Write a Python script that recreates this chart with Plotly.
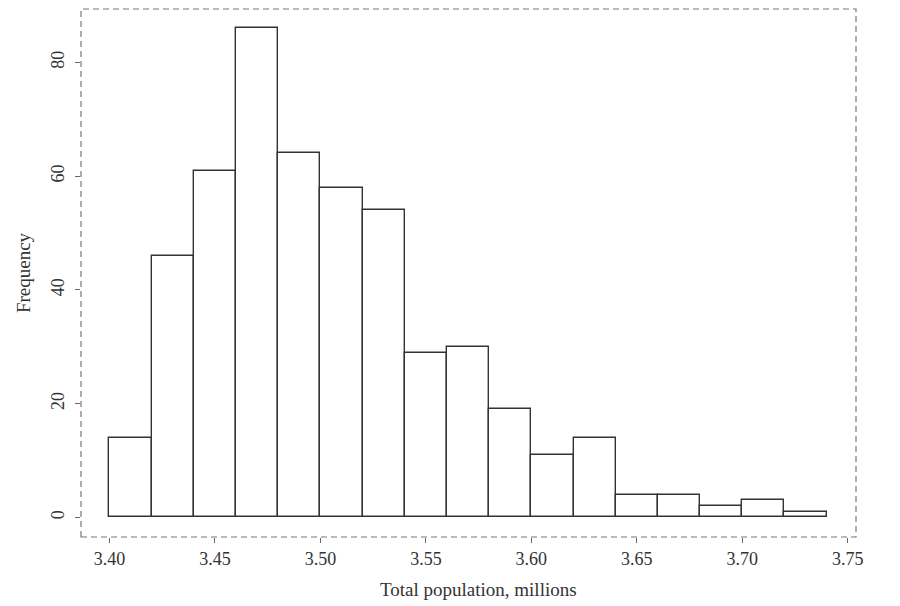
import plotly.graph_objects as go

# histogram bins (left edges, width 0.02) and counts
bin_starts = [3.40, 3.42, 3.44, 3.46, 3.48, 3.50, 3.52, 3.54, 3.56,
              3.58, 3.60, 3.62, 3.64, 3.66, 3.68, 3.70, 3.72]
counts = [14, 46, 61, 86, 64, 58, 54, 29, 30, 19, 11, 14, 4, 4, 2, 3, 1]
bin_width = 0.02

x_ticks = [3.40, 3.45, 3.50, 3.55, 3.60, 3.65, 3.70, 3.75]
x_ticklabels = ["3.40", "3.45", "3.50", "3.55", "3.60", "3.65", "3.70", "3.75"]
y_ticks = [0, 20, 40, 60, 80]

font = dict(family="Liberation Serif, Times New Roman, serif", size=18, color="#333333")
title_font = dict(font, size=19)

fig = go.Figure()
fig.add_trace(
    go.Bar(
        x=bin_starts,
        y=counts,
        width=bin_width,
        offset=0,
        marker=dict(color="white", line=dict(color="#333333", width=1.4)),
    )
)

# dashed frame around the plot region (R-style box)
fig.add_shape(
    type="rect", xref="paper", yref="paper", x0=0, y0=0, x1=1, y1=1,
    line=dict(color="#777777", width=1.2, dash="6px,4px"),
)

# x title sits a bit right of centre in the original, so place it by hand
fig.add_annotation(
    text="Total population, millions", font=title_font,
    xref="paper", yref="paper", x=0.5135, y=0,
    xanchor="center", yanchor="top", yshift=-40, showarrow=False,
)

fig.update_xaxes(
    range=[3.3865, 3.7539],
    tickvals=x_ticks,
    ticktext=x_ticklabels,
    ticks="outside", ticklen=5, tickcolor="#666666", tickwidth=1.2,
    showgrid=False, zeroline=False, showline=False,
    tickfont=font,
)
fig.update_yaxes(
    range=[-3.43, 89.4],
    tickvals=y_ticks,
    tickangle=-90,
    ticks="outside", ticklen=5, tickcolor="#666666", tickwidth=1.2,
    ticklabelstandoff=4,
    showgrid=False, zeroline=False, showline=False,
    tickfont=font,
    title=dict(text="Frequency", font=title_font, standoff=12),
)

# the page body adds an 8px offset, so the figure is a little smaller
fig.update_layout(
    width=892, height=598,
    margin=dict(l=73, r=44, t=1, b=69),
    plot_bgcolor="white", paper_bgcolor="white",
    showlegend=False,
    bargap=0,
)

fig.write_html("out.html")
